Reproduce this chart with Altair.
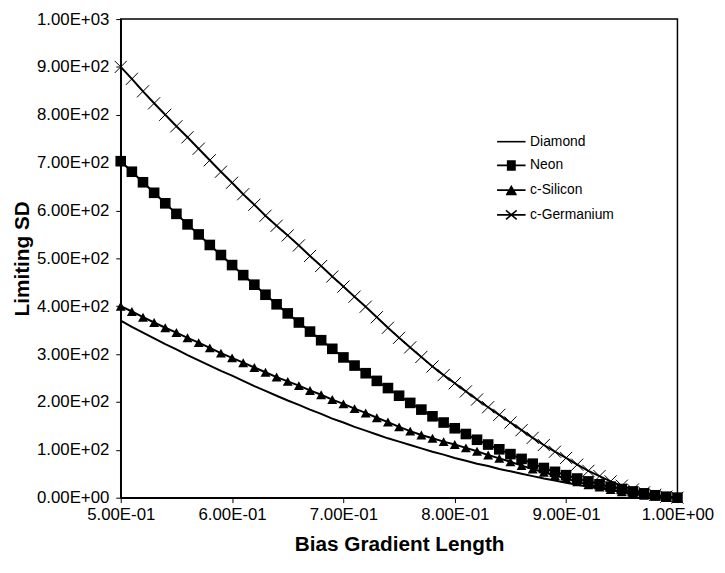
import altair as alt
import pandas as pd

X = [0.50, 0.51, 0.52, 0.53, 0.54, 0.55, 0.56, 0.57, 0.58, 0.59,
     0.60, 0.61, 0.62, 0.63, 0.64, 0.65, 0.66, 0.67, 0.68, 0.69,
     0.70, 0.71, 0.72, 0.73, 0.74, 0.75, 0.76, 0.77, 0.78, 0.79,
     0.80, 0.81, 0.82, 0.83, 0.84, 0.85, 0.86, 0.87, 0.88, 0.89,
     0.90, 0.91, 0.92, 0.93, 0.94, 0.95, 0.96, 0.97, 0.98, 0.99, 1.00]

DIAMOND = [370, 357, 345, 333, 321, 310, 298, 287, 276, 265,
           255, 244, 233, 223, 213, 203, 194, 184, 175, 165,
           157, 148, 140, 132, 124, 117, 110, 103, 96, 90,
           83, 77, 71, 66, 60, 55, 50, 45, 40, 36,
           31, 27, 23, 19, 16, 12, 9, 6, 4, 2, 0]

NEON = [703, 681, 659, 637, 615, 593, 571, 550, 528, 507,
        486, 465, 445, 424, 404, 385, 366, 347, 329, 311,
        293, 276, 260, 244, 229, 213, 198, 184, 170, 157,
        145, 133, 121, 111, 101, 91, 81, 71, 62, 54,
        47, 40, 34, 28, 23, 18, 13, 9, 5, 2, 0]

SILICON = [400, 389, 377, 366, 355, 345, 334, 324, 313, 302,
           292, 282, 272, 262, 252, 243, 234, 224, 215, 205,
           196, 186, 177, 167, 158, 148, 139, 131, 124, 117,
           111, 104, 97, 89, 82, 75, 67, 60, 53, 46,
           40, 33, 27, 22, 17, 12, 8, 5, 3, 1, 0]

GERMANIUM = [900, 875, 849, 824, 800, 776, 753, 729, 705, 681,
             658, 634, 612, 589, 568, 548, 527, 505, 484, 462,
             441, 420, 399, 377, 355, 334, 314, 294, 274, 256,
             239, 222, 205, 189, 173, 157, 141, 125, 110, 96,
             83, 69, 56, 45, 34, 25, 17, 11, 6, 2, 0]

SERIES = ["Diamond", "Neon", "c-Silicon", "c-Germanium"]
X_TICKS = [0.5, 0.6, 0.7, 0.8, 0.9, 1.0]
Y_TICKS = [0, 100, 200, 300, 400, 500, 600, 700, 800, 900, 1000]

rows = []
for name, vals in zip(SERIES, [DIAMOND, NEON, SILICON, GERMANIUM]):
    for xv, yv in zip(X, vals):
        rows.append({"x": xv, "y": yv, "series": name})
df = pd.DataFrame(rows)

FONT = "Liberation Sans"
label_expr = "replace(replace(format(datum.value, '.2e'), 'e+', 'E+0'), 'e-', 'E-0')"

xenc = alt.X("x:Q", scale=alt.Scale(domain=[0.5, 1.0], nice=False, zero=False),
             axis=alt.Axis(values=X_TICKS, labelExpr=label_expr, title="Bias Gradient Length",
                           titlePadding=11, labelPadding=4, labelFlush=False))
yenc = alt.Y("y:Q", scale=alt.Scale(domain=[0, 1000], nice=False),
             axis=alt.Axis(values=Y_TICKS, labelExpr=label_expr, title="Limiting SD",
                           titlePadding=4, labelPadding=7))

base = alt.Chart(df)

lines = base.mark_line(color="black", strokeWidth=2).encode(x=xenc, y=yenc, detail="series:N")

neon_pts = base.transform_filter(alt.datum.series == "Neon").mark_point(
    shape="square", filled=True, color="black", size=115, opacity=1
).encode(x="x:Q", y="y:Q")

si_pts = base.transform_filter(alt.datum.series == "c-Silicon").mark_point(
    shape="M0,-0.9L1,0.9L-1,0.9Z", filled=True, color="black", size=100, opacity=1
).encode(x="x:Q", y="y:Q")

ge_pts = base.transform_filter(alt.datum.series == "c-Germanium").mark_point(
    shape="M-1,-1L1,1M-1,1L1,-1", filled=False, color="black", size=150, strokeWidth=1, opacity=1
).encode(x="x:Q", y="y:Q")

# legend glyphs: a line segment plus a marker drawn with strokes only
STEPS = [-0.5, -0.4, -0.3, -0.2, -0.1, 0.0, 0.1, 0.2, 0.3, 0.4, 0.5]
LINE = "M-1.6,0H1.6"
SQUARE = LINE + "".join(f"M-0.5,{s:.2f}H0.5" for s in STEPS)
TRIANGLE = LINE + "".join(
    f"M{-0.6 * (s + 0.55) / 1.05:.3f},{s:.2f}H{0.6 * (s + 0.55) / 1.05:.3f}" for s in STEPS
)
CROSS = LINE + "M-0.6,-0.5L0.6,0.5M-0.6,0.5L0.6,-0.5"
LEGEND_PATHS = [LINE, SQUARE, TRIANGLE, CROSS]

legend_layer = base.transform_filter(alt.datum.x == 1.0).mark_point(
    filled=False, color="black", opacity=0
).encode(
    x="x:Q", y="y:Q",
    shape=alt.Shape("series:N", scale=alt.Scale(domain=SERIES, range=LEGEND_PATHS),
                    legend=alt.Legend(title=None, orient="none", legendX=385, legendY=114,
                                      symbolSize=324, symbolOpacity=1, symbolStrokeWidth=1.6,
                                      labelFont=FONT, labelFontSize=14, labelColor="black",
                                      labelOffset=9, rowPadding=7, padding=0))
)

chart = alt.layer(lines, neon_pts, si_pts, ge_pts, legend_layer).properties(
    width=563, height=484, autosize="none",
    padding={"left": 114, "top": 8, "right": 40, "bottom": 73},
    background="white",
).configure_view(stroke="black", strokeWidth=1.5).configure_axis(
    grid=False, domainColor="black", domainWidth=1.5, tickColor="black", tickSize=5,
    labelFont=FONT, labelFontSize=17, labelColor="black",
    titleFont=FONT, titleFontSize=21, titleFontWeight="bold", titleColor="black",
)

chart.save("out.html", embed_options={"renderer": "svg", "actions": False})
